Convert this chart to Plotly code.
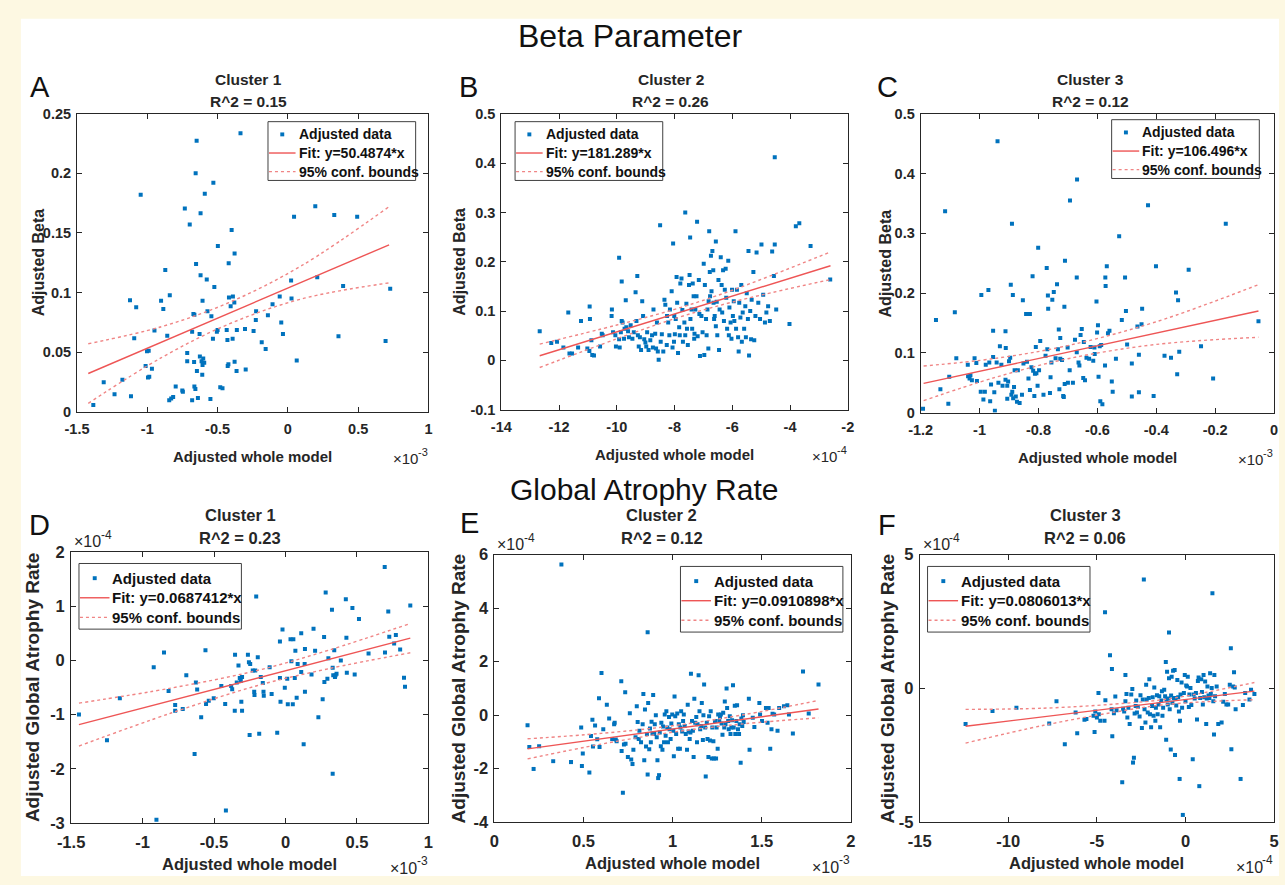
import plotly.graph_objects as go

W, H = 1285, 885
FONT = "Liberation Sans"
INK = "#262626"
BLUE = "#0072BD"
FIT_RED = "#EE5555"
BOUND_RED = "#F08585"
CREAM = "#FDF8E2"

# ---------------- Beta parameter row ----------------
# Panel A: x in units of 1e-3
A_POINTS = [
    (-1.384, 0.0055), (-1.310, 0.0246), (-1.233, 0.0145), (-1.177, 0.0268), (-1.123, 0.0936),
    (-1.116, 0.0129), (-1.093, 0.0616), (-1.079, 0.0876), (-1.047, 0.182), (-1.012, 0.0383),
    (-1.002, 0.0507), (-0.990, 0.0512), (-0.995, 0.0287), (-0.986, 0.0293), (-0.967, 0.0361),
    (-0.949, 0.0682), (-0.902, 0.0931), (-0.886, 0.0862), (-0.872, 0.119), (-0.858, 0.0638),
    (-0.840, 0.0978), (-0.844, 0.0096), (-0.830, 0.011), (-0.816, 0.0123), (-0.798, 0.0211),
    (-0.751, 0.0178), (-0.747, 0.0167), (-0.733, 0.1706), (-0.716, 0.0493), (-0.716, 0.0424),
    (-0.698, 0.157), (-0.681, 0.067), (-0.681, 0.0096), (-0.672, 0.082), (-0.665, 0.0813),
    (-0.667, 0.0416), (-0.665, 0.0211), (-0.658, 0.0189), (-0.656, 0.2002), (-0.653, 0.124),
    (-0.649, 0.2273), (-0.647, 0.0342), (-0.640, 0.0115), (-0.628, 0.0652), (-0.626, 0.0463),
    (-0.621, 0.1665), (-0.621, 0.1145), (-0.614, 0.0424), (-0.609, 0.0309), (-0.607, 0.0931),
    (-0.602, 0.0446), (-0.607, 0.0392), (-0.595, 0.041), (-0.591, 0.1829), (-0.577, 0.111),
    (-0.572, 0.0843), (-0.551, 0.0107), (-0.544, 0.08), (-0.533, 0.0611), (-0.530, 0.1922),
    (-0.523, 0.1046), (-0.505, 0.0671), (-0.500, 0.0685), (-0.498, 0.139), (-0.481, 0.0205),
    (-0.465, 0.0197), (-0.435, 0.0685), (-0.430, 0.0602), (-0.428, 0.0383), (-0.423, 0.0397),
    (-0.421, 0.1246), (-0.419, 0.0958), (-0.407, 0.0884), (-0.400, 0.1525), (-0.393, 0.0611),
    (-0.391, 0.0967), (-0.381, 0.0917), (-0.379, 0.1328), (-0.379, 0.0419), (-0.365, 0.0342),
    (-0.363, 0.0685), (-0.337, 0.2336), (-0.305, 0.0693), (-0.300, 0.0353), (-0.244, 0.0676),
    (-0.228, 0.0769), (-0.226, 0.0843), (-0.186, 0.0583), (-0.158, 0.0526), (-0.142, 0.081),
    (-0.109, 0.0901), (-0.058, 0.0967), (-0.047, 0.0748), (-0.035, 0.0652), (0.023, 0.110),
    (0.026, 0.095), (0.044, 0.1635), (0.063, 0.043), (0.195, 0.1725), (0.209, 0.1128),
    (0.330, 0.1651), (0.360, 0.0633), (0.393, 0.1054), (0.493, 0.1635), (0.695, 0.0594),
    (0.728, 0.1032),
]
A_SLOPE = "50.4874"
A_INTERCEPT = 0.1037
A_BOUND_X = [-1.42, -0.9, -0.42, 0.1, 0.72]
A_UPPER = [0.057, 0.0713, 0.0915, 0.1227, 0.1721]
A_LOWER = [0.007, 0.0453, 0.0735, 0.0947, 0.1081]

# Panel B: x in units of 1e-4
B_POINTS = [
    (-12.67, 0.059), (-12.27, 0.035), (-12.07, 0.038), (-11.85, 0.026), (-11.68, 0.097),
    (-11.64, 0.014), (-11.55, 0.014), (-11.34, 0.026), (-11.24, 0.080), (-11.02, 0.024),
    (-10.94, 0.109), (-10.93, 0.084), (-10.95, 0.019), (-10.88, 0.041), (-10.85, 0.011),
    (-10.79, 0.010), (-10.58, 0.028), (-10.52, 0.054), (-10.49, 0.051),
    (-10.18, 0.090), (-10.17, 0.103), (-10.13, 0.057), (-10.05, 0.051), (-10.03, 0.028),
    (-9.92, 0.208), (-9.92, 0.043), (-9.90, 0.026), (-9.86, 0.057), (-9.83, 0.160),
    (-9.83, 0.080), (-9.80, 0.077), (-9.75, 0.044), (-9.73, 0.064), (-9.69, 0.122),
    (-9.67, 0.067), (-9.61, 0.059), (-9.58, 0.047), (-9.52, 0.071), (-9.46, 0.044),
    (-9.41, 0.057), (-9.35, 0.138), (-9.32, 0.080), (-9.29, 0.171), (-9.27, 0.051),
    (-9.24, 0.028), (-9.20, 0.047), (-9.16, 0.021), (-9.12, 0.120), (-9.09, 0.090),
    (-9.05, 0.043), (-9.01, 0.036), (-8.98, 0.028), (-8.95, 0.057), (-8.90, 0.021),
    (-8.84, 0.041), (-8.78, 0.051), (-8.75, 0.026), (-8.73, 0.103),
    (-8.67, 0.054), (-8.64, 0.024), (-8.61, 0.077), (-8.58, 0.018), (-8.55, 0.001),
    (-8.50, 0.274), (-8.48, 0.038), (-8.44, 0.053), (-8.39, 0.018), (-8.35, 0.123),
    (-8.32, 0.113), (-8.27, 0.031), (-8.26, 0.090), (-8.22, 0.077), (-8.18, 0.051),
    (-8.16, 0.103), (-8.10, 0.140), (-8.07, 0.026), (-8.05, 0.237), (-8.02, 0.038),
    (-8.01, 0.090), (-7.99, 0.053), (-7.96, 0.084), (-7.93, 0.169), (-7.91, 0.117),
    (-7.88, 0.015), (-7.84, 0.067), (-7.82, 0.051), (-7.80, 0.156), (-7.76, 0.166),
    (-7.73, 0.102), (-7.71, 0.038), (-7.66, 0.077), (-7.63, 0.300), (-7.63, 0.051),
    (-7.59, 0.115), (-7.57, 0.064), (-7.54, 0.031), (-7.50, 0.153), (-7.48, 0.173),
    (-7.46, 0.249), (-7.45, 0.084), (-7.41, 0.103), (-7.39, 0.064), (-7.37, 0.156),
    (-7.34, 0.130), (-7.32, 0.044), (-7.31, 0.054), (-7.28, 0.103), (-7.24, 0.130),
    (-7.22, 0.281), (-7.20, 0.049), (-7.16, 0.163), (-7.14, 0.094), (-7.12, 0.009),
    (-7.07, 0.090),
    (-7.03, 0.057), (-6.99, 0.196), (-6.97, 0.011), (-6.95, 0.153), (-6.91, 0.084),
    (-6.89, 0.051), (-6.86, 0.103), (-6.83, 0.024), (-6.82, 0.120), (-6.80, 0.262),
    (-6.78, 0.179), (-6.77, 0.130), (-6.74, 0.212), (-6.72, 0.140), (-6.69, 0.222),
    (-6.66, 0.183), (-6.65, 0.117), (-6.63, 0.084), (-6.61, 0.090), (-6.57, 0.241),
    (-6.57, 0.069), (-6.54, 0.119), (-6.52, 0.051), (-6.48, 0.163), (-6.46, 0.021),
    (-6.44, 0.103), (-6.40, 0.209), (-6.37, 0.153), (-6.35, 0.097), (-6.32, 0.183),
    (-6.29, 0.080), (-6.26, 0.143), (-6.23, 0.186), (-6.21, 0.127), (-6.18, 0.064),
    (-6.14, 0.202), (-6.12, 0.051), (-6.10, 0.107), (-6.06, 0.077), (-6.03, 0.044),
    (-6.01, 0.143), (-5.98, 0.090), (-5.95, 0.120), (-5.93, 0.080), (-5.89, 0.262),
    (-5.87, 0.064), (-5.84, 0.143), (-5.80, 0.047), (-5.78, 0.018), (-5.76, 0.117),
    (-5.72, 0.087), (-5.69, 0.153), (-5.67, 0.038), (-5.64, 0.097), (-5.59, 0.064),
    (-5.55, 0.110), (-5.53, 0.047), (-5.50, 0.136), (-5.46, 0.084), (-5.44, 0.222),
    (-5.42, 0.010), (-5.38, 0.100), (-5.35, 0.043),
    (-5.33, 0.123), (-5.27, 0.179), (-5.24, 0.041), (-5.20, 0.090), (-5.16, 0.219),
    (-5.10, 0.117), (-5.04, 0.084), (-4.99, 0.235), (-4.93, 0.133), (-4.87, 0.077),
    (-4.82, 0.097), (-4.76, 0.110), (-4.70, 0.080), (-4.62, 0.221), (-4.56, 0.171),
    (-4.53, 0.412), (-4.53, 0.235), (-4.48, 0.103), (-4.02, 0.074), (-3.80, 0.272),
    (-3.68, 0.278), (-3.29, 0.232), (-2.61, 0.164),
]
B_SLOPE = "181.289"
B_INTERCEPT = 0.239
B_BOUND_X = [-12.67, -10, -8, -6, -2.6]
B_UPPER = [0.033, 0.0717, 0.1035, 0.1422, 0.2199]
B_LOWER = [-0.0144, 0.0437, 0.0845, 0.1182, 0.1639]

# Panel C: x in units of 1e-3
C_POINTS = [
    (-1.192, 0.0065), (-1.148, 0.155), (-1.133, 0.039), (-1.117, 0.337), (-1.106, 0.015),
    (-1.103, 0.060), (-1.084, 0.168), (-1.079, 0.091), (-1.040, 0.080), (-1.039, 0.061),
    (-1.034, 0.057), (-1.031, 0.0625), (-1.026, 0.054), (-1.017, 0.091), (-1.011, 0.083),
    (-1.009, 0.053), (-0.994, 0.197), (-0.996, 0.035), (-0.987, 0.022), (-0.982, 0.035),
    (-0.979, 0.080), (-0.970, 0.205), (-0.967, 0.084), (-0.964, 0.019), (-0.961, 0.047),
    (-0.954, 0.137), (-0.954, 0.093), (-0.950, 0.034), (-0.948, 0.003), (-0.942, 0.084),
    (-0.939, 0.454), (-0.936, 0.050), (-0.931, 0.111), (-0.926, 0.080), (-0.922, 0.045),
    (-0.912, 0.136), (-0.912, 0.055), (-0.911, 0.108), (-0.906, 0.023), (-0.906, 0.045),
    (-0.903, 0.052), (-0.900, 0.086), (-0.896, 0.092), (-0.894, 0.214), (-0.892, 0.030),
    (-0.890, 0.316), (-0.889, 0.035), (-0.887, 0.197), (-0.886, 0.024), (-0.883, 0.043),
    (-0.881, 0.071), (-0.877, 0.027), (-0.873, 0.018), (-0.870, 0.071), (-0.864, 0.016),
    (-0.856, 0.030), (-0.853, 0.188), (-0.851, 0.082), (-0.842, 0.165), (-0.839, 0.085),
    (-0.834, 0.057), (-0.829, 0.165), (-0.829, 0.038), (-0.824, 0.076), (-0.820, 0.228),
    (-0.818, 0.070), (-0.814, 0.028), (-0.812, 0.065), (-0.809, 0.110), (-0.807, 0.066),
    (-0.803, 0.045), (-0.801, 0.276), (-0.798, 0.071), (-0.794, 0.120), (-0.783, 0.030),
    (-0.776, 0.095), (-0.772, 0.242), (-0.770, 0.106), (-0.768, 0.196), (-0.767, 0.174),
    (-0.761, 0.033), (-0.759, 0.059), (-0.756, 0.084), (-0.753, 0.189), (-0.748, 0.202),
    (-0.742, 0.091), (-0.737, 0.215), (-0.734, 0.106), (-0.731, 0.139), (-0.729, 0.039),
    (-0.726, 0.125), (-0.726, 0.090), (-0.720, 0.088), (-0.716, 0.028), (-0.714, 0.026),
    (-0.712, 0.177), (-0.711, 0.048), (-0.710, 0.254), (-0.701, 0.109), (-0.700, 0.050),
    (-0.694, 0.071), (-0.693, 0.355), (-0.683, 0.050), (-0.676, 0.122), (-0.670, 0.226),
    (-0.670, 0.101), (-0.669, 0.390), (-0.664, 0.084), (-0.661, 0.079), (-0.657, 0.130),
    (-0.653, 0.140), (-0.648, 0.058), (-0.646, 0.118), (-0.642, 0.054), (-0.637, 0.092),
    (-0.628, 0.090), (-0.623, 0.110), (-0.614, 0.087), (-0.610, 0.109), (-0.609, 0.098),
    (-0.603, 0.186), (-0.601, 0.134), (-0.598, 0.146), (-0.596, 0.060), (-0.592, 0.111),
    (-0.590, 0.019), (-0.587, 0.113), (-0.583, 0.014), (-0.574, 0.079), (-0.573, 0.226),
    (-0.572, 0.212), (-0.568, 0.245), (-0.564, 0.133), (-0.559, 0.137), (-0.551, 0.052),
    (-0.548, 0.035), (-0.537, 0.090), (-0.526, 0.295), (-0.517, 0.155), (-0.506, 0.226),
    (-0.503, 0.170), (-0.499, 0.114), (-0.483, 0.027), (-0.483, 0.082), (-0.464, 0.144),
    (-0.459, 0.034), (-0.459, 0.097), (-0.450, 0.148), (-0.448, 0.174), (-0.428, 0.347),
    (-0.409, 0.028), (-0.401, 0.245), (-0.372, 0.095), (-0.350, 0.092), (-0.333, 0.201),
    (-0.329, 0.064), (-0.326, 0.188), (-0.322, 0.102), (-0.290, 0.239), (-0.248, 0.111),
    (-0.207, 0.057), (-0.164, 0.316), (-0.053, 0.153),
]
C_SLOPE = "106.496"
C_INTERCEPT = 0.1757
C_BOUND_X = [-1.19, -0.95, -0.7, -0.4, -0.053]
C_UPPER = [0.078, 0.0905, 0.1122, 0.1521, 0.2141]
C_LOWER = [0.020, 0.0585, 0.0902, 0.1141, 0.1261]

# ---------------- Global atrophy rate row ----------------
# Panel D: x in units of 1e-3, y in units of 1e-4
D_POINTS = [
    (-1.445, -1.00), (-1.249, -1.475), (-1.159, -0.70), (-0.922, -0.127), (-0.850, 0.145),
    (-0.818, -0.568), (-0.772, -0.822), (-0.772, -0.931), (-0.719, -0.90), (-0.694, -0.278),
    (-0.627, -0.41), (-0.618, -0.538), (-0.636, -1.729), (-0.590, -1.052), (-0.560, 0.187),
    (-0.556, -0.804), (-0.537, -0.744), (-0.502, -0.70), (-0.449, -0.472), (-0.422, -0.804),
    (-0.417, -2.769), (-0.380, -0.472), (-0.373, -0.532), (-0.355, -0.931), (-0.353, 0.103),
    (-0.341, -0.411), (-0.329, -0.097), (-0.320, -0.326), (-0.313, -0.381), (-0.309, -0.762),
    (-0.304, -0.931), (-0.304, -0.308), (-0.263, 0.103), (-0.256, -0.036), (-0.251, -1.378),
    (-0.247, -0.067), (-0.229, -0.187), (-0.219, -0.58), (-0.217, -0.641), (-0.212, -0.187),
    (-0.205, 1.173), (-0.194, 0.054), (-0.184, -1.354), (-0.173, -0.308), (-0.159, -0.417),
    (-0.154, -0.58), (-0.152, -0.653), (-0.111, -0.127), (-0.097, -0.623), (-0.058, -1.336),
    (-0.039, 0.345), (-0.039, -0.326), (-0.035, -0.762), (-0.021, 0.568), (-0.005, -0.508),
    (0.012, -0.339), (0.016, -0.81), (0.035, 0.387), (0.041, -0.018), (0.051, -0.81),
    (0.055, 0.387), (0.065, -0.326), (0.069, 0.175), (0.078, -0.689), (0.085, -0.067),
    (0.110, 0.496), (0.110, -0.218), (0.127, -1.548), (0.134, -0.067), (0.136, 0.206),
    (0.136, -0.58), (0.182, -0.26), (0.196, 0.58), (0.207, 0.175), (0.230, -1.052),
    (0.260, -0.719), (0.270, 0.429), (0.272, -0.399), (0.281, 1.251), (0.293, -0.339),
    (0.300, 0.036), (0.325, 0.931), (0.330, -0.139), (0.330, -2.092), (0.334, -0.278),
    (0.341, 0.187), (0.346, -0.308), (0.350, -0.278), (0.357, -0.248), (0.387, -0.006),
    (0.422, 1.124), (0.426, 0.417), (0.429, -0.23), (0.468, 0.961), (0.484, -0.26),
    (0.514, 0.762), (0.581, 0.127), (0.694, 1.717), (0.696, 0.145), (0.719, 0.901),
    (0.726, 0.435), (0.760, 0.308), (0.772, 0.466), (0.802, 0.2), (0.829, -0.32),
    (0.836, -0.49), (0.873, 1.01), (-0.903, -2.938),
]
D_SLOPE = "0.0687412"
D_INTERCEPT = -0.192
D_BOUND_X = [-1.445, -0.8, -0.2, 0.3, 0.873]
D_UPPER = [-0.79, -0.512, -0.189, 0.184, 0.678]
D_LOWER = [-1.58, -0.972, -0.469, -0.156, 0.138]

# Panel E: x in units of 1e-3, y in units of 1e-4
E_POINTS = [
    (0.186, -0.378), (0.196, -1.195), (0.220, -2.012), (0.251, -1.159), (0.330, -1.72),
    (0.376, 5.634), (0.430, -1.756), (0.487, -0.463), (0.491, -1.902), (0.496, -1.439),
    (0.533, -2.146), (0.542, -0.78), (0.550, -0.171), (0.553, -1.171), (0.565, -0.39),
    (0.577, -0.902), (0.587, 0.634), (0.590, -1.195), (0.601, 1.573), (0.611, -0.524),
    (0.631, 0.39), (0.644, -0.122), (0.661, -0.89), (0.672, -0.341), (0.675, -0.28),
    (0.681, -0.915), (0.686, -0.976), (0.712, 1.268), (0.714, -1.341), (0.721, -2.902),
    (0.727, -1.098), (0.734, 0.854), (0.736, -1.073), (0.749, -1.561), (0.760, 0.073),
    (0.768, -1.659), (0.775, -1.829), (0.780, -1.293), (0.792, -0.829), (0.799, 0.329),
    (0.804, -0.256), (0.810, -0.89), (0.814, -0.585), (0.823, -1.012), (0.832, -0.341),
    (0.836, 0.793), (0.841, -1.683), (0.845, 0.207), (0.851, -1.171), (0.856, -0.707),
    (0.860, 3.098), (0.860, -2.22), (0.863, 0.451), (0.869, -1.28), (0.873, -0.5),
    (0.878, -1.012), (0.882, -0.244), (0.887, -0.683), (0.891, 0.756), (0.897, -0.707),
    (0.900, -0.341), (0.906, 0.0), (0.911, -0.829), (0.915, -1.683), (0.919, -2.354),
    (0.924, -2.244), (0.928, -0.646), (0.934, -1.159), (0.937, -0.28), (0.943, -1.293),
    (0.946, -0.427), (0.952, -1.012), (0.956, 0.024), (0.961, -0.768), (0.965, 0.146),
    (0.970, -0.463), (0.974, -1.012), (0.980, -0.073), (0.983, -0.524), (0.989, -0.89),
    (0.993, -0.317), (0.998, 0.024), (1.004, -0.585), (1.007, -1.537), (1.011, 0.695),
    (1.015, -0.037), (1.020, -0.707), (1.026, 0.061), (1.031, -1.256), (1.035, -0.341),
    (1.041, -1.256), (1.044, -0.463), (1.048, 0.146), (1.054, -0.61), (1.059, -0.22),
    (1.063, 0.024), (1.068, -0.402), (1.074, -0.707), (1.081, -1.293), (1.085, 0.39),
    (1.090, -0.61), (1.096, -0.89), (1.100, -0.646), (1.103, 1.549), (1.109, -0.22),
    (1.114, -0.585), (1.118, -1.561), (1.122, 0.61), (1.127, -0.28), (1.133, -0.073),
    (1.137, -1.012), (1.140, -0.341), (1.146, 1.488), (1.151, 0.146), (1.155, -0.524),
    (1.161, -0.402), (1.164, 0.451), (1.170, -0.927), (1.173, 0.0), (1.177, 1.146),
    (1.183, -0.463), (1.186, -2.293), (1.192, -0.28), (1.196, -0.89), (1.201, -1.561),
    (1.205, -0.037), (1.210, -0.951), (1.214, 0.146), (1.220, -1.622), (1.223, -0.463),
    (1.229, -0.976), (1.232, -1.622), (1.238, -0.22), (1.244, -1.622), (1.247, -0.463),
    (1.253, -1.256), (1.256, 0.024), (1.262, -0.22), (1.266, -0.073), (1.271, 0.024),
    (1.275, -0.317), (1.280, -0.732), (1.284, 0.085), (1.290, -0.463), (1.293, 0.512),
    (1.297, -0.341), (1.303, 1.0), (1.306, 0.268), (1.312, -0.22), (1.315, -0.524),
    (1.321, -0.037), (1.325, -0.707), (1.330, -0.463), (1.334, -0.195), (1.339, 1.122),
    (1.343, -0.463), (1.349, 0.354), (1.352, -0.707), (1.358, -0.22), (1.362, 0.366),
    (1.367, -0.524), (1.373, -0.707), (1.376, -0.341), (1.382, -1.78), (1.386, -0.122),
    (1.391, -0.402), (1.395, 0.0), (1.399, -0.256), (1.428, 0.61), (1.432, -1.293),
    (1.450, -0.098), (1.459, -0.439), (1.487, 0.451), (1.491, 0.024), (1.502, -0.22),
    (1.524, 0.268), (1.533, -0.28), (1.539, 0.268), (1.548, -1.256), (1.555, -0.524),
    (1.561, 0.049), (1.570, 0.024), (1.589, -0.585), (1.598, 0.268), (1.625, 0.329),
    (1.644, 0.366), (1.653, 0.024), (1.675, -0.683), (1.732, 1.634), (1.764, 0.061),
    (1.819, 1.146),
]
E_SLOPE = "0.0910898"
E_INTERCEPT = -1.429
E_BOUND_X = [0.186, 0.6, 1.0, 1.4, 1.819]
E_UPPER = [-0.885, -0.6825, -0.398, 0.016, 0.55]
E_LOWER = [-1.635, -1.0825, -0.638, -0.324, -0.10]

# Panel F: x and y in units of 1e-4
F_POINTS = [
    (-12.41, -1.333), (-10.89, -0.844), (-9.54, -0.721), (-7.69, -1.308), (-7.28, -0.477),
    (-6.81, -2.09), (-6.20, -0.905), (-6.11, -1.675), (-5.70, -1.174), (-5.59, -1.149),
    (-5.50, 2.848), (-5.19, -1.027), (-5.13, -1.626), (-5.09, -0.868), (-5.00, -1.088),
    (-4.91, -0.171), (-4.89, -0.966), (-4.81, -1.21), (-4.57, -1.21), (-4.54, 2.848),
    (-4.52, -0.44), (-4.26, 1.235), (-4.17, -0.782), (-4.15, 0.721), (-4.13, -1.785),
    (-4.04, -0.929), (-3.96, -0.306), (-3.89, -0.819), (-3.57, -3.509), (-3.52, -0.758),
    (-3.46, -0.868), (-3.39, 0.501), (-3.39, -0.477), (-3.33, -0.208), (-3.28, -1.088),
    (-3.22, -0.721), (-3.15, -1.333), (-3.06, -0.232), (-3.00, -0.024), (-2.96, -2.775),
    (-2.91, -2.592), (-2.87, -0.941), (-2.81, -0.66), (-2.78, -0.452), (-2.74, -0.905),
    (-2.69, -0.685), (-2.59, -1.051), (-2.54, -0.257), (-2.46, -1.479), (-2.41, -0.416),
    (-2.35, 4.071), (-2.31, -0.782), (-2.26, -1.271), (-2.22, 0.134), (-2.19, -0.416),
    (-2.13, -0.905), (-2.07, -0.355), (-2.04, 0.342), (-2.00, -0.966), (-1.94, -1.455),
    (-1.89, -0.66), (-1.85, -0.33), (-1.80, -1.027), (-1.76, 0.037), (-1.70, -1.21),
    (-1.67, -0.721), (-1.61, -0.257), (-1.57, -0.966), (-1.52, -0.599), (-1.48, -0.293),
    (-1.43, -1.455), (-1.37, -0.452), (-1.33, -0.11), (-1.30, -1.027), (-1.26, -0.721),
    (-1.20, -0.049), (-1.15, -0.293), (-1.11, 0.99), (-1.09, -1.919), (-1.07, -0.416),
    (-1.04, 0.623), (-1.00, -0.599), (-0.96, -0.379), (-0.93, 2.09), (-0.93, 0.379),
    (-0.89, -0.782), (-0.83, -2.286), (-0.81, -0.269), (-0.78, 0.44), (-0.74, -0.538),
    (-0.70, 0.66), (-0.65, -0.355), (-0.61, 0.685), (-0.59, -2.494), (-0.56, -0.379),
    (-0.52, -0.636), (-0.46, 0.318), (-0.41, -0.33), (-0.37, -0.868), (-0.33, -3.386),
    (-0.31, -1.21), (-0.28, -0.232), (-0.22, 0.22), (-0.19, -0.721), (-0.15, -4.731),
    (-0.09, -0.171), (-0.04, 0.501), (0.00, -0.477), (0.04, 0.11), (0.09, 0.073),
    (0.13, 0.44), (0.19, -0.697), (0.22, -0.232), (0.28, 0.012), (0.33, -0.623),
    (0.41, -2.653), (0.46, -0.232), (0.52, -0.379), (0.59, -0.171), (0.65, -1.161),
    (0.70, 0.281), (0.74, 0.403), (0.78, -3.655), (0.83, -0.355), (0.89, 0.342),
    (0.93, -0.134), (0.98, -0.599), (1.02, 0.501), (1.06, -0.33), (1.11, 0.257),
    (1.17, -1.333), (1.20, -0.379), (1.24, 0.073), (1.30, -0.269), (1.35, -0.355),
    (1.39, 0.562), (1.43, -0.208), (1.48, 0.012), (1.52, 3.557), (1.57, -0.477),
    (1.61, -1.724), (1.63, 0.501), (1.67, -0.293), (1.76, 0.073), (1.85, -1.333),
    (2.04, -1.271), (2.13, -0.501), (2.22, -0.208), (2.31, -0.599), (2.41, -0.599),
    (2.50, 0.134), (2.56, 1.504), (2.59, -2.274), (2.69, 0.073), (2.74, 0.599),
    (2.78, 0.037), (2.83, -0.782), (3.11, -3.386), (3.24, -0.623), (3.37, -0.171),
    (3.61, -0.416), (3.70, -0.049), (3.89, -0.208),
]
F_SLOPE = "0.0806013"
F_INTERCEPT = -0.415
F_BOUND_X = [-12.41, -8, -4, -1, 3.89]
F_UPPER = [-0.785, -0.74, -0.587, -0.396, 0.2185]
F_LOWER = [-2.045, -1.38, -0.887, -0.596, -0.4215]

# ---------------- text ----------------
ROW_TITLES = ["Beta Parameter", "Global Atrophy Rate"]
PANEL_LETTERS = ["A", "B", "C", "D", "E", "F"]
CLUSTER_NAMES = ["Cluster 1", "Cluster 2", "Cluster 3", "Cluster 1", "Cluster 2", "Cluster 3"]
R_SQUARED = ["0.15", "0.26", "0.12", "0.23", "0.12", "0.06"]
X_LABEL = "Adjusted whole model"
Y_LABELS = ["Adjusted Beta", "Adjusted Global Atrophy Rate"]
LEGEND_DATA = "Adjusted data"
LEGEND_BOUNDS = "95% conf. bounds"

# ---------------- ticks ----------------
A_XTICKS = [-1.5, -1, -0.5, 0, 0.5, 1]
A_XTEXT = ["-1.5", "-1", "-0.5", "0", "0.5", "1"]
A_YTICKS = [0, 0.05, 0.1, 0.15, 0.2, 0.25]
A_YTEXT = ["0", "0.05", "0.1", "0.15", "0.2", "0.25"]
B_XTICKS = [-14, -12, -10, -8, -6, -4, -2]
B_XTEXT = ["-14", "-12", "-10", "-8", "-6", "-4", "-2"]
B_YTICKS = [-0.1, 0, 0.1, 0.2, 0.3, 0.4, 0.5]
B_YTEXT = ["-0.1", "0", "0.1", "0.2", "0.3", "0.4", "0.5"]
C_XTICKS = [-1.2, -1, -0.8, -0.6, -0.4, -0.2, 0]
C_XTEXT = ["-1.2", "-1", "-0.8", "-0.6", "-0.4", "-0.2", "0"]
C_YTICKS = [0, 0.1, 0.2, 0.3, 0.4, 0.5]
C_YTEXT = ["0", "0.1", "0.2", "0.3", "0.4", "0.5"]
D_XTICKS = [-1.5, -1, -0.5, 0, 0.5, 1]
D_XTEXT = ["-1.5", "-1", "-0.5", "0", "0.5", "1"]
D_YTICKS = [-3, -2, -1, 0, 1, 2]
D_YTEXT = ["-3", "-2", "-1", "0", "1", "2"]
E_XTICKS = [0, 0.5, 1, 1.5, 2]
E_XTEXT = ["0", "0.5", "1", "1.5", "2"]
E_YTICKS = [-4, -2, 0, 2, 4, 6]
E_YTEXT = ["-4", "-2", "0", "2", "4", "6"]
F_XTICKS = [-15, -10, -5, 0, 5]
F_XTEXT = ["-15", "-10", "-5", "0", "5"]
F_YTICKS = [-5, 0, 5]
F_YTEXT = ["-5", "0", "5"]

# ---------------- panel geometry (pixels) and scaling ----------------
PANELS = [
    dict(pts=A_POINTS, slope=A_SLOPE, icpt=A_INTERCEPT, bx=A_BOUND_X, bu=A_UPPER, bl=A_LOWER,
         xexp=-3, yexp=0, box=(64, 107, 421, 411), xr=[-1.5, 1], yr=[0, 0.25],
         xt=(A_XTICKS, A_XTEXT), yt=(A_YTICKS, A_YTEXT), leg=(258, 115), row=0,
         letter=(26, 80), ylab_x=25, title_x=238),
    dict(pts=B_POINTS, slope=B_SLOPE, icpt=B_INTERCEPT, bx=B_BOUND_X, bu=B_UPPER, bl=B_LOWER,
         xexp=-4, yexp=0, box=(495, 107, 847, 409), xr=[-14, -2], yr=[-0.1, 0.5],
         xt=(B_XTICKS, B_XTEXT), yt=(B_YTICKS, B_YTEXT), leg=(509, 115), row=0,
         letter=(462, 80), ylab_x=453, title_x=667),
    dict(pts=C_POINTS, slope=C_SLOPE, icpt=C_INTERCEPT, bx=C_BOUND_X, bu=C_UPPER, bl=C_LOWER,
         xexp=-3, yexp=0, box=(921, 107, 1280, 412), xr=[-1.2, 0], yr=[0, 0.5],
         xt=(C_XTICKS, C_XTEXT), yt=(C_YTICKS, C_YTEXT), leg=(1115, 113), row=0,
         letter=(887, 80), ylab_x=885, title_x=1094),
    dict(pts=D_POINTS, slope=D_SLOPE, icpt=D_INTERCEPT, bx=D_BOUND_X, bu=D_UPPER, bl=D_LOWER,
         xexp=-3, yexp=-4, box=(58, 554, 421, 831), xr=[-1.5, 1], yr=[-3, 2],
         xt=(D_XTICKS, D_XTEXT), yt=(D_YTICKS, D_YTEXT), leg=(66, 566), row=1,
         letter=(26, 527), ylab_x=19, title_x=230),
    dict(pts=E_POINTS, slope=E_SLOPE, icpt=E_INTERCEPT, bx=E_BOUND_X, bu=E_UPPER, bl=E_LOWER,
         xexp=-3, yexp=-4, box=(488, 557, 850, 830), xr=[0, 2], yr=[-4, 6],
         xt=(E_XTICKS, E_XTEXT), yt=(E_YTICKS, E_YTEXT), leg=(677, 569), row=1,
         letter=(463, 525), ylab_x=451, title_x=658),
    dict(pts=F_POINTS, slope=F_SLOPE, icpt=F_INTERCEPT, bx=F_BOUND_X, bu=F_UPPER, bl=F_LOWER,
         xexp=-4, yexp=-4, box=(920, 557, 1280, 830), xr=[-15, 5], yr=[-5, 5],
         xt=(F_XTICKS, F_XTEXT), yt=(F_YTICKS, F_YTEXT), leg=(928, 569), row=1,
         letter=(887, 527), ylab_x=887, title_x=1088),
]

# per-row text sizes
ROW_STYLE = [
    dict(tick=14.5, xlab=15, ylab=16, cluster=15.5, legend=14, expo=15, sup=11,
         cl_y=(72, 94), xlab_dy=46, xexp_dy=48, leg_w=150, leg_h=60,
         leg_rows=(13, 32, 51), leg_line=27, leg_text=29),
    dict(tick=16.5, xlab=16.5, ylab=19, cluster=16.5, legend=15, expo=16, sup=12,
         cl_y=(516, 540), xlab_dy=42, xexp_dy=46, leg_w=165, leg_h=67,
         leg_rows=(15, 35, 55), leg_line=30, leg_text=32),
]


def px(x):
    return x / W


def py(y):
    return 1 - y / H


def text(t, x, y, size, bold=False, xanchor="center", yanchor="middle", angle=0, color=INK):
    return dict(text=t, x=px(x), y=py(y), xref="paper", yref="paper", showarrow=False,
                xanchor=xanchor, yanchor=yanchor, textangle=angle,
                font=dict(family=FONT, size=size, color=color,
                          weight="bold" if bold else "normal"))


def power_label(exp, x, y, st, anchor):
    """'×10' with a raised exponent; anchor is 'left' or 'right' edge at x."""
    base_w = 1.70 * st["expo"]
    sup_w = 1.00 * st["sup"] + 2
    left = x if anchor == "left" else x - base_w - sup_w
    return [
        text("×10", left, y, st["expo"], xanchor="left"),
        text(str(exp), left + base_w, y - 7, st["sup"], xanchor="left"),
    ]


fig = go.Figure()
annotations = []
shapes = [dict(type="rect", xref="paper", yref="paper", x0=px(7), x1=1, y0=0, y1=py(10),
               fillcolor="white", line=dict(width=0), layer="below")]
layout_axes = {}

for i, p in enumerate(PANELS):
    n = "" if i == 0 else str(i + 1)
    st = ROW_STYLE[p["row"]]
    x0, y0, x1, y1 = p["box"]
    xs = [q[0] for q in p["pts"]]
    ys = [q[1] for q in p["pts"]]
    scale = 10.0 ** (p["xexp"] - p["yexp"])
    slope = float(p["slope"])
    fit_x = [p["bx"][0], p["bx"][-1]]
    fit_y = [slope * scale * v + p["icpt"] for v in fit_x]

    fig.add_trace(go.Scatter(x=xs, y=ys, mode="markers", xaxis="x" + n, yaxis="y" + n,
                             marker=dict(symbol="square", size=4, color=BLUE, line=dict(width=0)),
                             showlegend=False, hoverinfo="x+y"))
    for bound in (p["bu"], p["bl"]):
        fig.add_trace(go.Scatter(x=p["bx"], y=bound, mode="lines", xaxis="x" + n, yaxis="y" + n,
                                 line=dict(color=BOUND_RED, width=1.4, dash="dot", shape="spline"),
                                 showlegend=False, hoverinfo="skip"))
    fig.add_trace(go.Scatter(x=fit_x, y=fit_y, mode="lines", xaxis="x" + n, yaxis="y" + n,
                             line=dict(color=FIT_RED, width=1.4), showlegend=False,
                             hoverinfo="skip"))

    common = dict(showline=True, linecolor=INK, linewidth=1, mirror="ticks", ticks="inside",
                  ticklen=5, tickwidth=1, tickcolor=INK, showgrid=False, zeroline=False,
                  tickfont=dict(family=FONT, size=st["tick"], color=INK, weight="bold"))
    layout_axes["xaxis" + n] = dict(domain=[px(x0), px(x1)], range=p["xr"], anchor="y" + n,
                                    tickmode="array", tickvals=p["xt"][0], ticktext=p["xt"][1],
                                    ticklabelstandoff=4, **common)
    layout_axes["yaxis" + n] = dict(domain=[py(y1), py(y0)], range=p["yr"], anchor="x" + n,
                                    tickmode="array", tickvals=p["yt"][0], ticktext=p["yt"][1],
                                    ticklabelstandoff=2, **common)

    cx = (x0 + x1) / 2
    # titles
    annotations.append(text(CLUSTER_NAMES[i], p["title_x"], st["cl_y"][0], st["cluster"], True))
    annotations.append(text("R^2 = " + R_SQUARED[i], p["title_x"], st["cl_y"][1], st["cluster"], True))
    annotations.append(text(PANEL_LETTERS[i], p["letter"][0], p["letter"][1], 29, color="#111"))
    # axis labels
    annotations.append(text(X_LABEL, cx, y1 + st["xlab_dy"], st["xlab"], True))
    annotations.append(text(Y_LABELS[p["row"]], p["ylab_x"], (y0 + y1) / 2, st["ylab"], True,
                            angle=-90))
    annotations.extend(power_label(p["xexp"], x1, y1 + st["xexp_dy"], st, "right"))
    if p["yexp"]:
        annotations.extend(power_label(p["yexp"], x0 + 1, y0 - 10, st, "left"))

    # legend box
    lx, ly = p["leg"]
    lw, lh = st["leg_w"], st["leg_h"]
    r1, r2, r3 = (ly + r for r in st["leg_rows"])
    shapes.append(dict(type="rect", xref="paper", yref="paper", x0=px(lx), x1=px(lx + lw),
                       y0=py(ly + lh), y1=py(ly), fillcolor="white",
                       line=dict(color="#404040", width=1), layer="above"))
    mx = lx + 1 + st["leg_line"] / 2
    shapes.append(dict(type="rect", xref="paper", yref="paper", x0=px(mx - 2), x1=px(mx + 2),
                       y0=py(r1 + 2), y1=py(r1 - 2), fillcolor=BLUE, line=dict(width=0),
                       layer="above"))
    shapes.append(dict(type="line", xref="paper", yref="paper", x0=px(lx + 1),
                       x1=px(lx + 1 + st["leg_line"]), y0=py(r2), y1=py(r2),
                       line=dict(color=FIT_RED, width=1.4), layer="above"))
    shapes.append(dict(type="line", xref="paper", yref="paper", x0=px(lx + 1),
                       x1=px(lx + 1 + st["leg_line"]), y0=py(r3), y1=py(r3),
                       line=dict(color=BOUND_RED, width=1.4, dash="dot"), layer="above"))
    for label, ry in ((LEGEND_DATA, r1), ("Fit: y=%s*x" % p["slope"], r2), (LEGEND_BOUNDS, r3)):
        annotations.append(text(label, lx + st["leg_text"], ry, st["legend"], True,
                                xanchor="left", color="#111"))

annotations.append(text(ROW_TITLES[0], 626, 28, 32, color="#111"))
annotations.append(text(ROW_TITLES[1], 640, 490, 30, color="#111"))

fig.update_layout(
    width=W, height=H, autosize=False,
    margin=dict(l=0, r=0, t=0, b=0, pad=0),
    paper_bgcolor=CREAM, plot_bgcolor="white",
    showlegend=False,
    annotations=annotations, shapes=shapes,
    font=dict(family=FONT, color=INK),
    **layout_axes,
)

fig.write_html("out.html", config={"displayModeBar": False})
